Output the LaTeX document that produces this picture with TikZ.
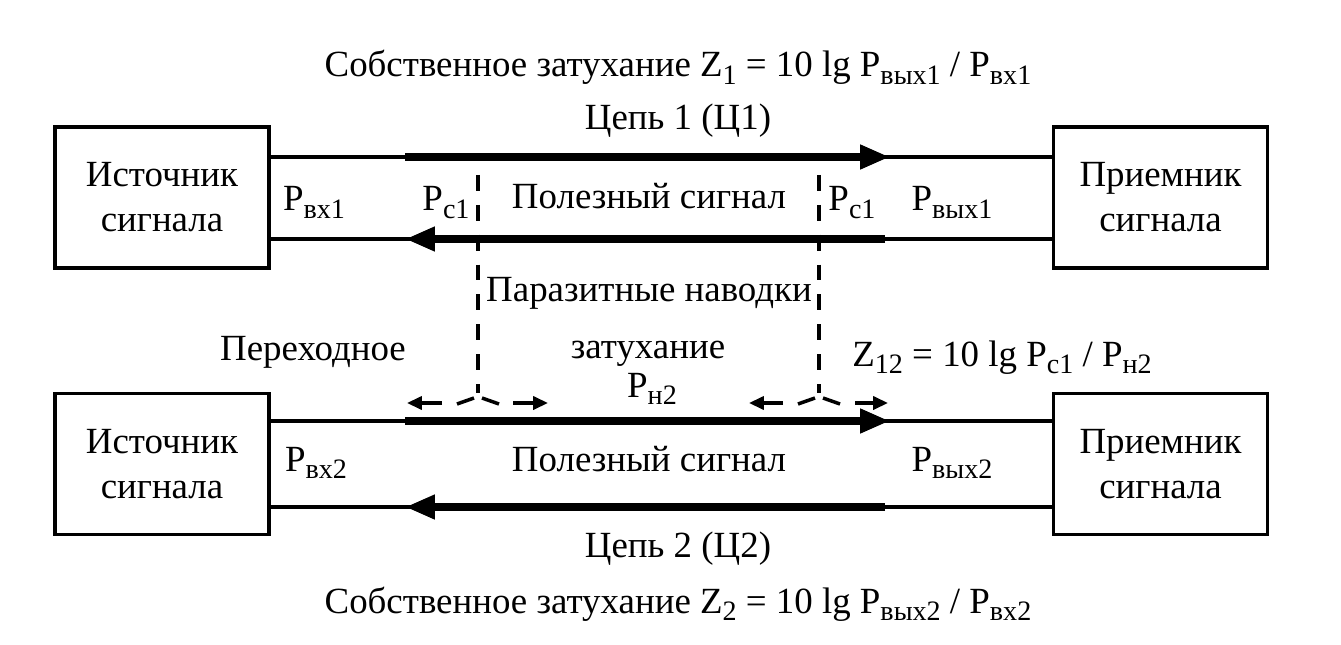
\documentclass[tikz,border=0pt]{standalone}
\usepackage{fontspec}
\setmainfont{Liberation Serif}
\usetikzlibrary{arrows.meta}
\newcommand\sbs[1]{\raisebox{-4.5pt}{\fontsize{16}{16}\selectfont #1}}
\begin{document}
\begin{tikzpicture}[x=0.02cm,y=-0.02cm,
  font=\fontsize{21}{25}\selectfont,
  box/.style={draw,line width=2pt,minimum width=4.28cm,minimum height=2.82cm,
    align=center,inner sep=0pt,font=\fontsize{21}{25.5}\selectfont},
  wire/.style={line width=1.8pt},
  fatarrow/.style={line width=4.8pt,-{Triangle[length=17pt,width=13pt]}},
  dashline/.style={line width=2pt,dash pattern=on 9pt off 8pt},
  branch/.style={line width=2pt},
  smallarrow/.style={line width=1.8pt,-{Triangle[length=8.5pt,width=7.5pt]}},
  clbl/.style={anchor=base,inner sep=0pt}]
\useasboundingbox (0,0) rectangle (1341,645);

% boxes
\node[box] (src1) at (162,197.5) {Источник\\сигнала};
\node[box] (rcv1) at (1160.5,197.5) {Приемник\\сигнала};
\node[box] (src2) at (162,464) {Источник\\сигнала};
\node[box] (rcv2) at (1160.5,464) {Приемник\\сигнала};

% thin wires
\draw[wire] (src1.east |- 0,157) -- (rcv1.west |- 0,157);
\draw[wire] (src1.east |- 0,239) -- (rcv1.west |- 0,239);
\draw[wire] (src2.east |- 0,421) -- (rcv2.west |- 0,421);
\draw[wire] (src2.east |- 0,507) -- (rcv2.west |- 0,507);

% thick signal arrows
\coordinate (f1s) at (405,157); \coordinate (f1e) at (890,157);
\coordinate (r1s) at (885,239); \coordinate (r1e) at (405,239);
\coordinate (f2s) at (405,421); \coordinate (f2e) at (890,421);
\coordinate (r2s) at (885,507); \coordinate (r2e) at (405,507);
\draw[fatarrow] (f1s) -- (f1e);
\draw[fatarrow] (r1s) -- (r1e);
\draw[fatarrow] (f2s) -- (f2e);
\draw[fatarrow] (r2s) -- (r2e);

% dashed interference paths
\coordinate (d1t) at (478,175); \coordinate (d1b) at (478,393);
\coordinate (d2t) at (819,175); \coordinate (d2b) at (819,393);
\draw[dashline] (d1t) -- (d1b);
\draw[dashline] (d2t) -- (d2b);
\draw[branch] (474,398) -- (457,404);
\draw[branch] (482,398) -- (499,404);
\draw[branch] (815,398) -- (798,404);
\draw[branch] (823,398) -- (840,404);
\coordinate (a1) at (442,403); \coordinate (a1t) at (407,403);
\coordinate (a2) at (513,403); \coordinate (a2t) at (548,403);
\coordinate (a3) at (783,403); \coordinate (a3t) at (749,403);
\coordinate (a4) at (855,403); \coordinate (a4t) at (888,403);
\draw[smallarrow] (a1) -- (a1t);
\draw[smallarrow] (a2) -- (a2t);
\draw[smallarrow] (a3) -- (a3t);
\draw[smallarrow] (a4) -- (a4t);

% labels
\node[clbl] (title1) at (678,77) {Собственное затухание Z\sbs{1} = 10 lg P\sbs{вых1} / P\sbs{вх1}};
\node[clbl] (chain1) at (678,130) {Цепь 1 (Ц1)};
\node[clbl] (pvx1) at (314,211) {P\sbs{вх1}};
\node[clbl] (pc1a) at (446,211) {P\sbs{c1}};
\node[clbl] (useful1) at (649,209) {Полезный сигнал};
\node[clbl] (pc1b) at (852,211) {P\sbs{c1}};
\node[clbl] (pvyx1) at (952,211) {P\sbs{вых1}};
\node[clbl] (paraz) at (649,301) {Паразитные наводки};
\node[clbl] (perehod) at (313,360) {Переходное};
\node[clbl] (zatuh) at (648,358) {затухание};
\node[clbl] (z12) at (1002,366) {Z\sbs{12} = 10 lg P\sbs{c1} / P\sbs{н2}};
\node[clbl] (pn2) at (652,397) {P\sbs{н2}};
\node[clbl] (pvx2) at (316,471) {P\sbs{вх2}};
\node[clbl] (useful2) at (649,471) {Полезный сигнал};
\node[clbl] (pvyx2) at (952,471) {P\sbs{вых2}};
\node[clbl] (chain2) at (678,557) {Цепь 2 (Ц2)};
\node[clbl] (title2) at (678,613) {Собственное затухание Z\sbs{2} = 10 lg P\sbs{вых2} / P\sbs{вх2}};
\end{tikzpicture}
\end{document}
